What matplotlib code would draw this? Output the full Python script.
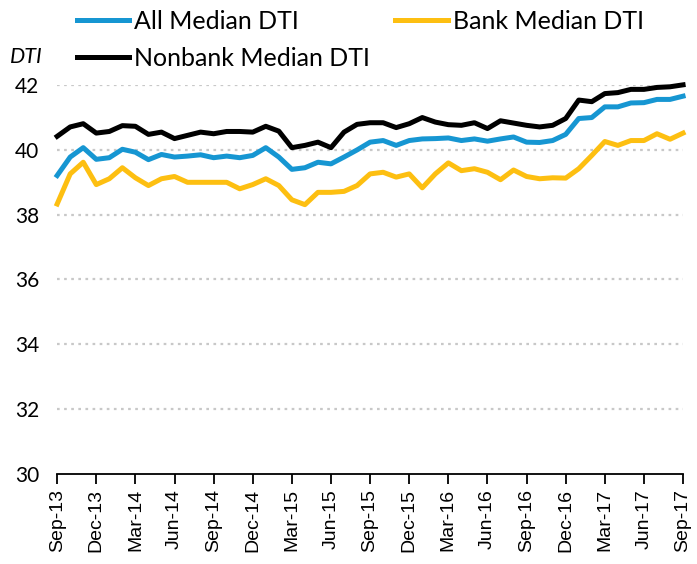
import numpy as np
import matplotlib
matplotlib.use('Agg')
import matplotlib.pyplot as plt

# monthly, Sep-13 .. Sep-17
tick_labels = ['Sep-13', 'Dec-13', 'Mar-14', 'Jun-14', 'Sep-14', 'Dec-14', 'Mar-15',
               'Jun-15', 'Sep-15', 'Dec-15', 'Mar-16', 'Jun-16', 'Sep-16', 'Dec-16',
               'Mar-17', 'Jun-17', 'Sep-17']

all_dti = [39.21, 39.78, 40.07, 39.71, 39.76, 40.02, 39.93, 39.70, 39.86, 39.78,
           39.81, 39.85, 39.76, 39.81, 39.76, 39.83, 40.07, 39.78, 39.40, 39.45,
           39.62, 39.57, 39.78, 40.00, 40.24, 40.29, 40.14, 40.29, 40.34, 40.35,
           40.37, 40.29, 40.34, 40.27, 40.34, 40.40, 40.24, 40.23, 40.29, 40.48,
           40.97, 41.00, 41.33, 41.33, 41.45, 41.46, 41.56, 41.56, 41.66]

bank_dti = [38.33, 39.26, 39.62, 38.93, 39.11, 39.45, 39.14, 38.90, 39.11, 39.18,
            39.00, 39.00, 39.00, 39.00, 38.80, 38.93, 39.11, 38.90, 38.46, 38.31,
            38.69, 38.69, 38.72, 38.90, 39.26, 39.31, 39.16, 39.26, 38.83, 39.26,
            39.60, 39.36, 39.42, 39.31, 39.08, 39.38, 39.18, 39.11, 39.14, 39.13,
            39.42, 39.83, 40.26, 40.14, 40.29, 40.29, 40.50, 40.33, 40.52]

nonbank_dti = [40.42, 40.71, 40.81, 40.52, 40.57, 40.75, 40.73, 40.48, 40.55, 40.35,
               40.45, 40.55, 40.50, 40.57, 40.57, 40.55, 40.73, 40.58, 40.07, 40.14,
               40.24, 40.07, 40.55, 40.79, 40.84, 40.84, 40.69, 40.81, 41.00, 40.86,
               40.78, 40.76, 40.84, 40.66, 40.90, 40.83, 40.76, 40.71, 40.76, 40.97,
               41.54, 41.49, 41.74, 41.77, 41.87, 41.87, 41.93, 41.95, 42.01]

BLUE, YELLOW, BLACK = '#1696d2', '#fdbf11', '#000000'

plt.rcParams['font.family'] = ['Lato', 'DejaVu Sans']

fig = plt.figure(figsize=(6.97, 5.64), dpi=100)
ax = fig.add_axes([0.082, 0.160, 0.898, 0.689])

x = np.arange(len(all_dti))
lw = 3.6
l_all, = ax.plot(x, all_dti, color=BLUE, lw=lw, label='All Median DTI', clip_on=False)
l_bank, = ax.plot(x, bank_dti, color=YELLOW, lw=lw, label='Bank Median DTI', clip_on=False)
l_non, = ax.plot(x, nonbank_dti, color=BLACK, lw=lw, label='Nonbank Median DTI', clip_on=False)

ax.set_xlim(0, len(x) - 1)
ax.set_ylim(30, 42)
ax.set_yticks(np.arange(30, 43, 2))
ax.tick_params(axis='y', length=0, labelsize=15, pad=13)
for yv in range(32, 43, 2):
    ax.axhline(yv, color='#c8c8c8', lw=1.6, ls=(0, (1.2, 2.0)), zorder=0)

ax.set_xticks(x[::3])
ax.set_xticklabels(tick_labels, rotation=90, fontsize=14, family='Liberation Sans')
ax.tick_params(axis='x', length=7, width=1.3, color='black', pad=4)

for s in ['top', 'right', 'left']:
    ax.spines[s].set_visible(False)
ax.spines['bottom'].set_linewidth(1.3)

fig.text(0.014, 0.899, 'DTI', fontsize=15.5, style='italic', va='center')

fig.legend([l_all, l_non, l_bank],
           ['All Median DTI', 'Nonbank Median DTI', 'Bank Median DTI'],
           ncol=2, loc='upper left', bbox_to_anchor=(0.096, 1.0), frameon=False,
           fontsize=18, handlelength=2.1, handletextpad=0.2, columnspacing=1.0,
           labelspacing=0.55, borderaxespad=0)

fig.savefig('out.png', dpi=100)
